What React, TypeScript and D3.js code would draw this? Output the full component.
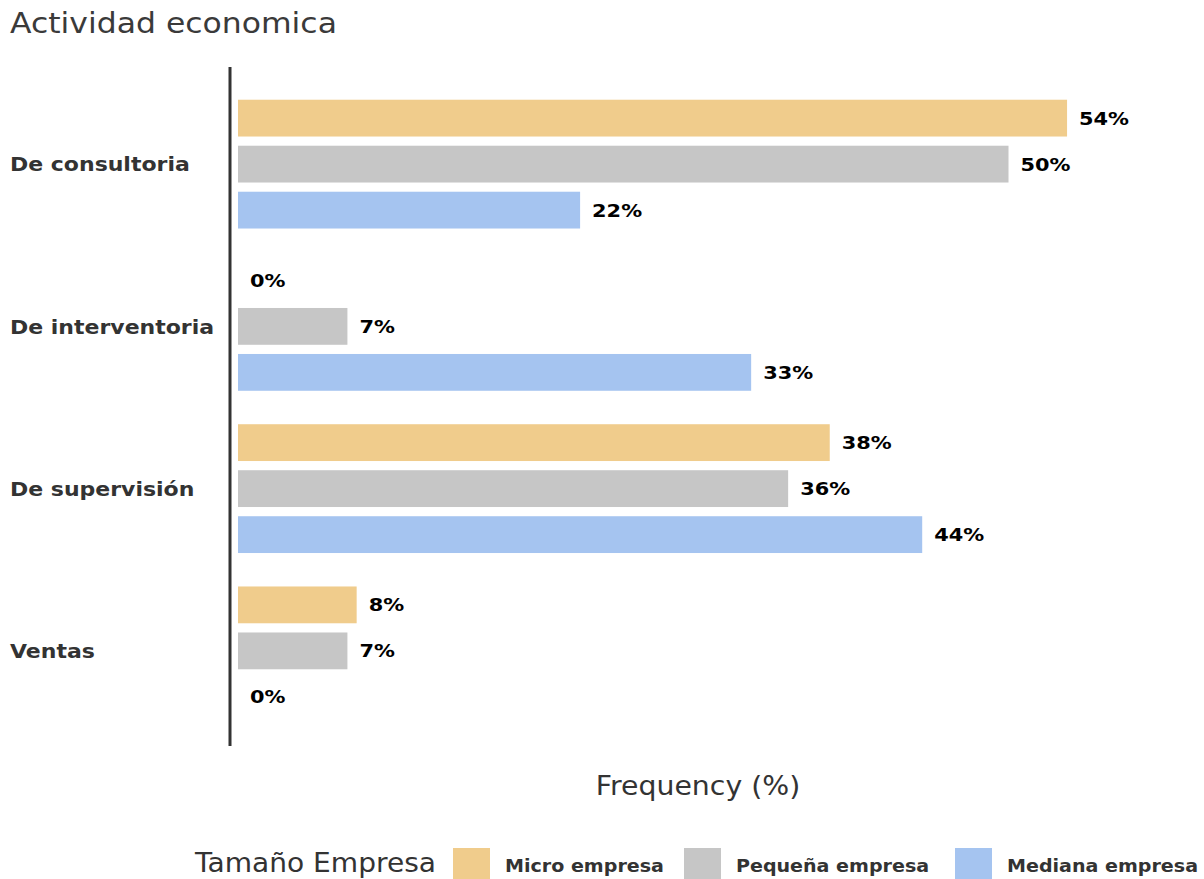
import React from "react";
import * as d3 from "d3";

const categories = ["De consultoria", "De interventoria", "De supervisión", "Ventas"];
const seriesNames = ["Micro empresa", "Pequeña empresa", "Mediana empresa"];
const microValues = [53.8, 0, 38.4, 7.7];
const pequenaValues = [50.0, 7.1, 35.7, 7.1];
const medianaValues = [22.2, 33.3, 44.4, 0];
const seriesColors = ["#F0CC8C", "#C6C6C6", "#A5C4F0"];
const titleText = "Actividad economica";
const xAxisTitle = "Frequency (%)";
const legendTitle = "Tamaño Empresa";

const W = 1204;
const H = 879;
const FONT = "'DejaVu Sans', Verdana, sans-serif";

type TProps = {
  x: number;
  y: number;
  sx?: number;
  size: number;
  bold?: boolean;
  fill?: string;
  anchor?: "start" | "middle" | "end";
  dy?: string;
  children: React.ReactNode;
};

function T({ x, y, sx = 1, size, bold, fill = "#333", anchor = "start", dy, children }: TProps) {
  return (
    <text
      transform={`translate(${x},${y}) scale(${sx},1)`}
      textAnchor={anchor}
      dy={dy}
      fontFamily={FONT}
      fontSize={size}
      fontWeight={bold ? "bold" : "normal"}
      fill={fill}
    >
      {children}
    </text>
  );
}

export default function App() {
  const seriesValues = [microValues, pequenaValues, medianaValues];

  const x = d3.scaleLinear().domain([0, 60]).range([238, 238 + 60 * 15.41]);
  const y0 = d3.scaleBand<string>().domain(categories).range([83, 732]).paddingInner(0).paddingOuter(0);
  const y1 = d3
    .scaleBand<string>()
    .domain(seriesNames)
    .range([0, 138])
    .paddingInner(0.2)
    .paddingOuter(0.1);
  const groupOffset = (y0.bandwidth() - 138) / 2;
  const swatchX = [453, 684, 955];

  return (
    <svg
      width={W}
      height={H}
      viewBox={`0 0 ${W} ${H}`}
      style={{ position: "absolute", left: 0, top: 0, background: "#fff" }}
    >
      <T x={10} y={33} size={29} sx={1.085} fill="#3a3a3a">
        {titleText}
      </T>

      {categories.map((c) => (
        <T key={c} x={10} y={(y0(c) as number) + y0.bandwidth() / 2} dy="0.36em" size={20} sx={1.1} bold>
          {c}
        </T>
      ))}

      {categories.map((c, ci) =>
        seriesNames.map((s, si) => {
          const v = seriesValues[si][ci];
          const yy = (y0(c) as number) + groupOffset + (y1(s) as number);
          const x1 = x(v);
          return (
            <g key={c + s}>
              {v > 0 && (
                <rect x={x(0)} y={yy} width={x1 - x(0)} height={y1.bandwidth()} fill={seriesColors[si]} />
              )}
              <T x={x1 + 12} y={yy + y1.bandwidth() / 2} dy="0.36em" size={18} sx={1.16} bold fill="#000">
                {`${Math.round(v)}%`}
              </T>
            </g>
          );
        })
      )}

      <line x1={230} x2={230} y1={67} y2={746} stroke="#333" strokeWidth={3} />

      <T x={698} y={795} anchor="middle" size={26} sx={1.09}>
        {xAxisTitle}
      </T>

      <T x={195} y={872} size={27} sx={1.04}>
        {legendTitle}
      </T>
      {seriesNames.map((s, i) => (
        <g key={s}>
          <rect x={swatchX[i]} y={848} width={37} height={31} fill={seriesColors[i]} />
          <T x={swatchX[i] + 52} y={872} size={18} sx={1.06} bold>
            {s}
          </T>
        </g>
      ))}
    </svg>
  );
}
